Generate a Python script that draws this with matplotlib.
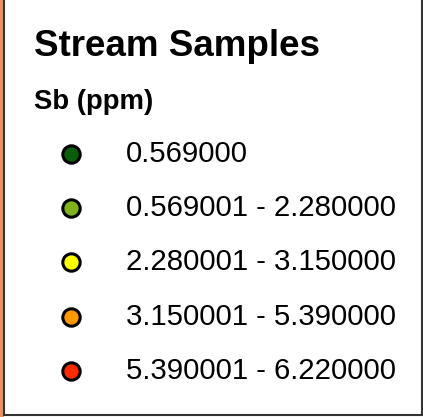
import matplotlib.pyplot as plt
from matplotlib.patches import Rectangle

plt.rcParams['font.family'] = ['Liberation Sans', 'DejaVu Sans']

title = "Stream Samples"
subtitle = "Sb (ppm)"
class_labels = [
    "0.569000",
    "0.569001 - 2.280000",
    "2.280001 - 3.150000",
    "3.150001 - 5.390000",
    "5.390001 - 6.220000",
]
class_colors = ["#0a5e0a", "#7fb21a", "#ffff00", "#ff9900", "#ff2a00"]


def plot_legend():
    fig = plt.figure(figsize=(4.23, 4.17), dpi=100)
    ax = fig.add_axes([0, 0, 1, 1])
    ax.set_xlim(0, 423)
    ax.set_ylim(417, 0)
    ax.axis('off')

    # strip of map peeking out on the left, then the legend frame
    ax.add_patch(Rectangle((0, 0), 4, 417, facecolor="#ee9160", edgecolor="none"))
    ax.add_patch(Rectangle((4, -5), 417.5, 419.5, facecolor="white",
                           edgecolor="#333333", linewidth=1.5))

    ax.text(34, 46, title, fontsize=26.5, fontweight='bold', va='center', ha='left')
    ax.text(34, 102, subtitle, fontsize=19.8, fontweight='bold', va='center', ha='left')

    y0, step = 154, 54.2
    for i, (label, color) in enumerate(zip(class_labels, class_colors)):
        y = y0 + i * step
        ax.plot(71, y, 'o', markersize=12.5, markerfacecolor=color,
                markeredgecolor='black', markeredgewidth=2.2)
        ax.text(126, y, label, fontsize=21.2, va='center', ha='left')

    fig.savefig("out.png", dpi=100)


def main():
    plot_legend()


if __name__ == "__main__":
    main()
